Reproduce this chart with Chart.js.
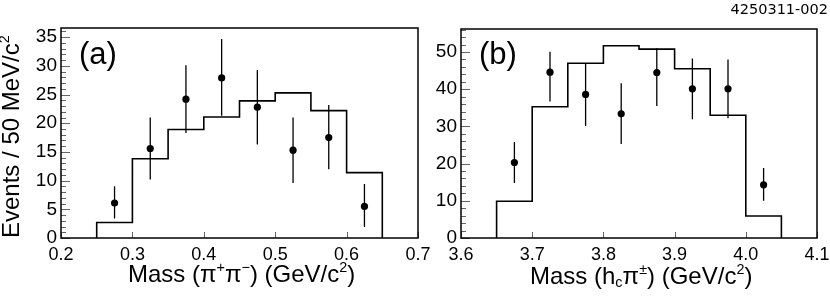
<!DOCTYPE html>
<html>
<head>
<meta charset="utf-8">
<script src="https://cdn.jsdelivr.net/npm/chart.js@4.4.1/dist/chart.umd.min.js"></script>
<style>
  body { margin: 0; background: #fff; }
  #wrap { position: relative; width: 830px; height: 302px; overflow: hidden;
          font-family: "Liberation Sans", Arial, sans-serif; color: #000; }
  canvas { position: absolute; top: 0; }
  .lbl { position: absolute; white-space: nowrap; line-height: 1; }
  .lbl sup { font-size: 60%; position: relative; top: -0.15em; vertical-align: top; }
  .lbl sub { font-size: 60%; position: relative; top: 0.75em; vertical-align: top; }
  #idTag { right: 2px; top: 1px; font: 14.5px "DejaVu Sans", sans-serif; }
  #yTitle { left: -1px; top: 238px; font-size: 24px; transform-origin: 0 0; transform: rotate(-90deg); }
  #xTitleA { left: 128px; top: 262px; font-size: 24px; }
  #xTitleB { left: 530px; top: 264px; font-size: 24px; }
  .tag { font-size: 31px; top: 38px; }
</style>
</head>
<body>
<div id="wrap">
  <canvas id="chartA" width="440" height="302" style="left:0;width:440px;height:302px"></canvas>
  <canvas id="chartB" width="405" height="302" style="left:425px;width:405px;height:302px"></canvas>
  <div class="lbl" id="idTag">4250311-002</div>
  <div class="lbl" id="yTitle">Events / 50 MeV/c<sup>2</sup></div>
  <div class="lbl" id="xTitleA">Mass (&pi;<sup>+</sup>&pi;<sup>&minus;</sup>) (GeV/c<sup>2</sup>)</div>
  <div class="lbl" id="xTitleB">Mass (h<sub>c</sub>&pi;<sup>&plusmn;</sup>) (GeV/c<sup>2</sup>)</div>
  <div class="lbl tag" style="left:79px">(a)</div>
  <div class="lbl tag" style="left:479px">(b)</div>
</div>
<script>
// panel (a): M(pi+ pi-)
const edgesA = [0.25, 0.30, 0.35, 0.40, 0.45, 0.50, 0.55, 0.60, 0.65];
const histA  = [2.7, 13.8, 18.9, 21.1, 23.9, 25.3, 22.2, 11.4];
const ptXA   = [0.275, 0.325, 0.375, 0.425, 0.475, 0.525, 0.575, 0.625];
const ptYA   = [6.1, 15.6, 24.2, 27.9, 22.8, 15.3, 17.5, 5.5];
const errLoA = [3.4, 10.2, 18.3, 21.3, 16.3, 9.6, 12.0, 1.9];
const errHiA = [9.0, 21.0, 30.1, 34.7, 29.3, 21.0, 23.2, 9.4];
const xTicksA = [0.2, 0.3, 0.4, 0.5, 0.6, 0.7];
const yTicksA = [0, 5, 10, 15, 20, 25, 30, 35];

// panel (b): M(hc pi+-)
const edgesB = [3.65, 3.70, 3.75, 3.80, 3.85, 3.90, 3.95, 4.00, 4.05];
const histB  = [9.9, 35.3, 47.0, 51.7, 50.8, 45.5, 33.0, 5.9];
const ptXB   = [3.675, 3.725, 3.775, 3.825, 3.875, 3.925, 3.975, 4.025];
const ptYB   = [20.3, 44.6, 38.6, 33.4, 44.5, 40.1, 40.1, 14.3];
const errLoB = [14.8, 36.7, 30.1, 25.3, 35.5, 31.9, 32.2, 10.0];
const errHiB = [25.8, 50.1, 47.0, 41.6, 51.0, 48.3, 48.0, 18.8];
const xTicksB = [3.6, 3.7, 3.8, 3.9, 4.0, 4.1];
const yTicksB = [0, 10, 20, 30, 40, 50];

const FONT = '"Liberation Sans", Arial, sans-serif';

// frame + ROOT-style inner ticks
const frameTicks = {
    id: 'frameTicks',
    afterDatasetsDraw(chart, args, o) {
        const { ctx, chartArea: a, scales: { x, y } } = chart;
        ctx.save();
        ctx.strokeStyle = '#666';
        ctx.lineWidth = 1;
        ctx.beginPath();
        for (let i = 0; i * o.yMinor <= y.max; i++) {
            const py = Math.round(y.getPixelForValue(i * o.yMinor)) + 0.5;
            const len = (i % o.yPer === 0) ? 9 : 5;
            ctx.moveTo(a.left, py); ctx.lineTo(a.left + len, py);
        }
        o.xTicks.forEach(v => {
            const px = Math.round(x.getPixelForValue(v)) + 0.5;
            ctx.moveTo(px, a.bottom); ctx.lineTo(px, a.bottom - 6);
        });
        ctx.stroke();
        ctx.strokeStyle = '#000';
        ctx.lineWidth = 1.5;
        ctx.strokeRect(a.left, a.top, a.right - a.left, a.bottom - a.top);
        ctx.restore();
    }
};

function makeChart(id, d) {
    // histogram as a stepped outline
    const hist = [{ x: d.edges[0], y: 0 }];
    d.hist.forEach((v, i) => hist.push({ x: d.edges[i], y: v }));
    hist.push({ x: d.edges[d.edges.length - 1], y: d.hist[d.hist.length - 1] });
    hist.push({ x: d.edges[d.edges.length - 1], y: 0 });

    // error bars, separated by gaps
    const errs = [];
    d.ptX.forEach((x, i) => {
        errs.push({ x: x, y: d.lo[i] }, { x: x, y: d.hi[i] }, { x: x, y: null });
    });

    const pts = d.ptX.map((x, i) => ({ x: x, y: d.ptY[i] }));

    return new Chart(document.getElementById(id), {
        type: 'scatter',
        data: {
            datasets: [
                { type: 'line', data: hist, stepped: 'before', borderColor: '#000', borderWidth: 1.6,
                  pointRadius: 0, fill: false },
                { type: 'line', data: errs, borderColor: '#000', borderWidth: 1.3, pointRadius: 0,
                  spanGaps: false, fill: false },
                { data: pts, pointRadius: 3.6, backgroundColor: '#000', borderColor: '#000', borderWidth: 0 }
            ]
        },
        options: {
            responsive: false,
            animation: false,
            devicePixelRatio: 1,
            layout: { padding: { top: d.top, right: d.right, left: 0, bottom: 0 } },
            plugins: {
                legend: { display: false },
                tooltip: { enabled: false },
                frameTicks: { yMinor: d.yMinor, yPer: d.yPer, xTicks: d.xTicks }
            },
            scales: {
                x: {
                    type: 'linear', min: d.xTicks[0], max: d.xTicks[d.xTicks.length - 1],
                    grid: { display: false, drawTicks: false }, border: { display: false },
                    afterBuildTicks: s => { s.ticks = d.xTicks.map(v => ({ value: v })); },
                    afterFit: s => { s.height = 302 - 238; s.paddingLeft = 0; s.paddingRight = 0; },
                    ticks: { font: { family: FONT, size: 18 }, color: '#000', padding: 6,
                             maxRotation: 0, autoSkip: false, callback: v => v.toFixed(1) }
                },
                y: {
                    min: 0, max: d.yMax,
                    grid: { display: false, drawTicks: false }, border: { display: false },
                    afterBuildTicks: s => { s.ticks = d.yTicks.map(v => ({ value: v })); },
                    afterFit: s => { s.width = d.yWidth; },
                    ticks: { font: { family: FONT, size: 19 }, color: '#000', padding: 4, autoSkip: false }
                }
            }
        },
        plugins: [frameTicks]
    });
}

makeChart('chartA', {
    edges: edgesA, hist: histA, ptX: ptXA, ptY: ptYA, lo: errLoA, hi: errHiA,
    xTicks: xTicksA, yTicks: yTicksA, yMax: 36.6, yMinor: 1, yPer: 5,
    top: 28, right: 22, yWidth: 61
});
makeChart('chartB', {
    edges: edgesB, hist: histB, ptX: ptXB, ptY: ptYB, lo: errLoB, hi: errHiB,
    xTicks: xTicksB, yTicks: yTicksB, yMax: 56.2, yMinor: 2, yPer: 5,
    top: 29, right: 13, yWidth: 36
});
</script>
</body>
</html>
